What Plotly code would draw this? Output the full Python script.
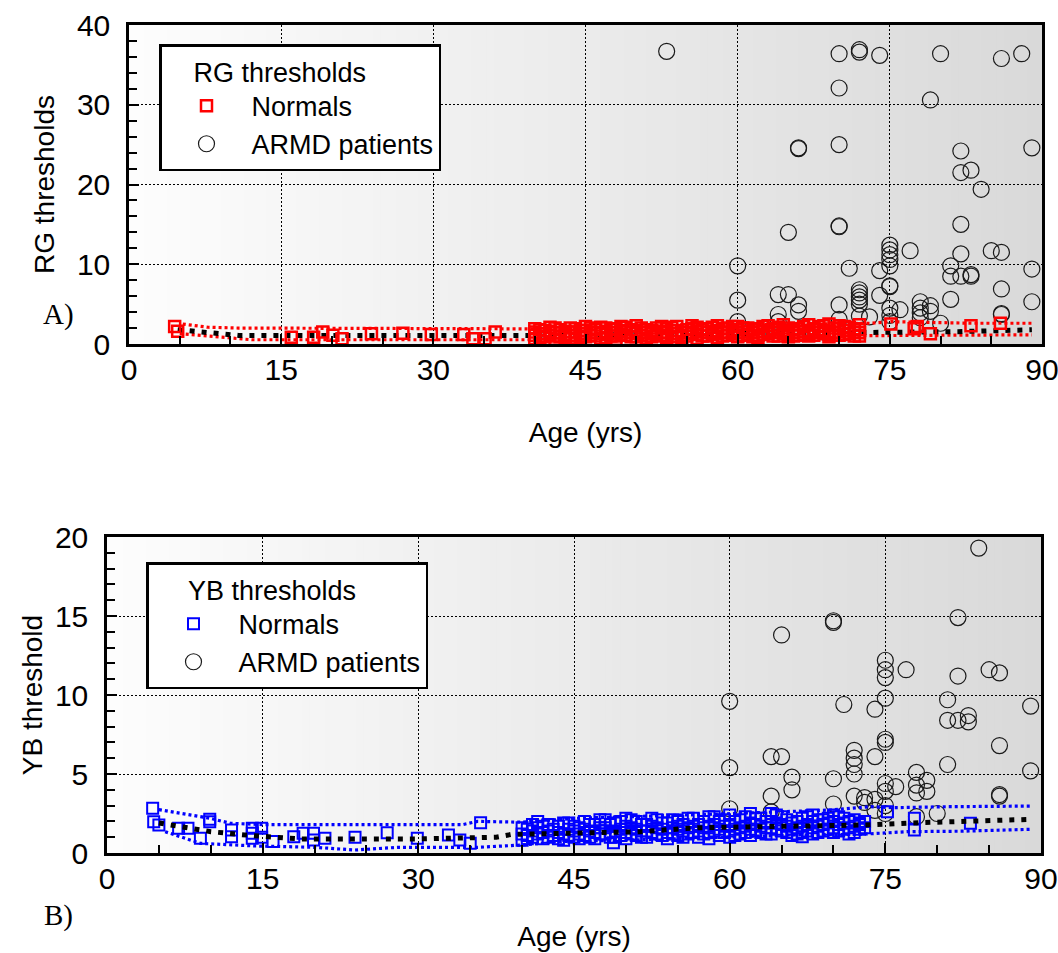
import plotly.graph_objects as go

# ---------------- RG thresholds (panel A) ----------------
rg_norm_age = [4.5, 4.8, 16, 18.2, 19.1, 20.1, 21, 23.9, 27, 29.8, 33, 33.9, 35.1, 36.1,
               40, 40, 40, 40, 41, 41, 41, 42, 42, 42, 42, 43, 43, 43, 44, 44, 44, 44,
               45, 45, 45, 45, 46, 46, 46, 47, 47, 47, 47, 48, 48, 48, 48, 49, 49, 49,
               50, 50, 50, 50, 51, 51, 51, 51, 52, 52, 52, 53, 53, 53, 53, 54, 54, 54, 54,
               55, 55, 55, 56, 56, 56, 56, 57, 57, 57, 58, 58, 58, 58, 59, 59, 59,
               60, 60, 60, 60, 60, 61, 61, 61, 62, 62, 62, 62, 63, 63, 63, 64, 64, 64, 64,
               65, 65, 65, 65, 66, 66, 66, 67, 67, 67, 67, 68, 68, 68, 69, 69, 69, 69,
               70, 70, 70, 70, 71, 71, 71, 72, 72, 72, 72,
               40.5, 40.5, 40.5, 41.5, 41.5, 41.5, 42.5, 42.5, 42.5, 43.5, 43.5, 43.5,
               44.5, 44.5, 44.5, 45.5, 45.5, 45.5, 46.5, 46.5, 46.5, 47.5, 47.5, 47.5,
               48.5, 48.5, 48.5, 49.5, 49.5, 49.5, 50.5, 50.5, 50.5, 51.5, 51.5, 51.5,
               52.5, 52.5, 52.5, 53.5, 53.5, 53.5, 54.5, 54.5, 54.5, 55.5, 55.5, 55.5,
               56.5, 56.5, 56.5, 57.5, 57.5, 57.5, 58.5, 58.5, 58.5, 59.5, 59.5, 59.5,
               60.5, 60.5, 60.5, 61.5, 61.5, 61.5, 62.5, 62.5, 62.5, 63.5, 63.5, 63.5,
               64.5, 64.5, 64.5, 65.5, 65.5, 65.5, 66.5, 66.5, 66.5, 67.5, 67.5, 67.5,
               68.5, 68.5, 68.5, 69.5, 69.5, 69.5, 70.5, 70.5, 70.5, 71.5, 71.5, 71.5,
               75.1, 77.4, 77.7, 79, 83, 85.9]
rg_norm_val = [2.2, 1.6, 0.85, 0.85, 1.5, 1.1, 0.65, 1.3, 1.35, 1.2, 1.2, 0.65, 0.65, 1.5,
               1.1, 0.7, 1.5, 1.9, 1.3, 0.9, 1.7, 1.0, 1.4, 2.0, 0.6, 1.2, 1.6, 0.8, 1.5, 1.1, 1.9, 0.7,
               1.3, 0.9, 1.7, 2.2, 1.0, 1.4, 1.8, 1.2, 0.8, 1.6, 2.0, 1.4, 1.0, 1.9, 0.6, 1.1, 1.5, 2.1,
               1.3, 0.9, 1.7, 2.3, 1.0, 1.4, 1.8, 0.7, 1.2, 1.6, 2.0, 1.5, 1.1, 0.8, 1.9, 1.3, 1.7, 2.2, 0.9,
               1.0, 1.4, 1.8, 1.2, 1.6, 2.1, 0.7, 1.4, 1.0, 1.9, 1.3, 1.7, 0.8, 2.3, 1.1, 1.5, 2.0,
               1.4, 1.0, 1.8, 2.2, 0.9, 1.2, 1.6, 2.0, 1.5, 1.1, 1.9, 0.8, 1.3, 1.7, 2.3, 1.0, 1.4, 1.8, 2.1,
               1.2, 1.6, 2.0, 0.9, 1.5, 1.1, 1.9, 1.3, 1.7, 2.4, 1.0, 1.4, 1.8, 2.2, 1.2, 1.6, 2.5, 0.9,
               1.5, 1.9, 2.3, 1.1, 1.3, 1.7, 2.1, 1.4, 1.0, 1.8, 2.4,
               1.3, 0.8, 1.8, 1.1, 1.6, 2.1, 1.4, 0.9, 1.8, 1.0, 1.5, 2.0,
               1.3, 0.8, 1.7, 1.1, 1.5, 2.0, 1.3, 0.7, 2.1, 1.0, 1.4, 1.8,
               1.2, 1.7, 2.2, 1.4, 0.9, 1.8, 1.1, 1.5, 2.0, 1.3, 1.7, 0.9,
               1.0, 1.4, 2.2, 1.3, 1.7, 2.1, 1.1, 1.5, 0.8, 1.3, 1.9, 2.3,
               1.0, 1.5, 1.8, 1.2, 1.6, 2.1, 1.4, 1.0, 1.9, 1.3, 1.7, 2.2,
               1.1, 1.5, 2.0, 1.4, 0.9, 1.8, 1.2, 1.6, 2.2, 1.0, 1.5, 1.9,
               1.3, 1.7, 2.4, 1.4, 1.0, 1.8, 1.2, 1.6, 2.2, 1.5, 1.9, 1.1,
               1.3, 1.7, 2.3, 1.4, 2.0, 1.1, 1.2, 1.7, 2.2, 1.5, 1.0, 1.9,
               2.5, 1.9, 2.2, 1.3, 2.3, 2.6]

rg_armd_age = [53, 70, 72, 72, 74, 80, 86, 88, 70, 79, 66, 66, 70, 82, 89, 82, 83, 84,
               65, 70, 70, 82, 75, 75, 75, 75, 75, 77, 82, 85, 86,
               60, 71, 74, 81, 81, 82, 83, 83, 89,
               60, 64, 65, 66, 66, 64, 64, 60, 70, 70,
               72, 72, 72, 72, 72, 72, 73, 74, 75, 75, 75, 75, 75, 76,
               78, 78, 78, 78, 79, 79, 80, 81, 86, 86, 86, 89]
rg_armd_val = [36.7, 36.4, 36.9, 36.6, 36.2, 36.4, 35.8, 36.4, 32.1, 30.6, 24.6, 24.5, 25.0, 24.2, 24.6, 21.5, 21.8, 19.4,
               14.0, 14.8, 14.7, 15.0, 12.4, 11.8, 11.2, 10.6, 9.8, 11.7, 11.3, 11.7, 11.5,
               9.8, 9.5, 9.2, 9.8, 8.5, 8.5, 8.7, 8.5, 9.4,
               5.5, 6.2, 6.2, 4.9, 4.1, 3.7, 2.8, 2.8, 4.9, 3.1,
               6.8, 6.4, 5.9, 5.5, 5.0, 3.5, 3.4, 6.1, 7.3, 7.2, 4.5, 3.6, 2.8, 4.3,
               5.3, 4.5, 3.9, 3.3, 4.8, 4.1, 2.6, 5.6, 6.9, 3.8, 3.7, 5.3]

rg_mean_age = [4.8, 6.2, 8.5, 10.8, 40, 50, 65.9, 74.1, 81.7, 89]
rg_mean_val = [1.8, 1.6, 1.28, 1.07, 1.07, 1.15, 1.28, 1.48, 1.55, 1.78]
rg_upper_age = [5.3, 7.8, 10.8, 39.5, 50, 65, 73, 75.1, 83.3, 89]
rg_upper_val = [2.5, 2.1, 2.0, 1.9, 2.2, 2.4, 2.6, 2.8, 2.6, 2.6]
rg_lower_age = [5, 8.5, 12.1, 39.5, 55, 73, 80, 89]
rg_lower_val = [1.3, 0.9, 0.53, 0.53, 0.8, 1.05, 1.1, 1.15]

# ---------------- YB thresholds (panel B) ----------------
yb_norm_age = [4.4, 4.5, 5.0, 6.9, 7.8, 9.0, 9.9, 9.9, 12, 12, 14, 14, 14, 14.9, 14.9, 16,
               18, 18.9, 19.9, 19.9, 21, 23.9, 27, 29.9, 32.9, 34, 35, 36,
               40, 40, 40, 41, 41, 41, 42, 42, 42, 43, 43, 44, 44, 44, 45, 45, 45,
               46, 46, 46, 47, 47, 47, 48, 48, 48, 48.8, 49, 49, 49, 50, 50, 50, 50,
               51, 51, 51, 52, 52, 52, 53, 53, 53, 54, 54, 54, 55, 55, 55, 55,
               56, 56, 56, 57, 57, 57, 58, 58, 58, 58, 59, 59, 59, 60, 60, 60, 60,
               61, 61, 61, 62, 62, 62, 62, 63, 63, 63, 64, 64, 64, 64, 65, 65, 65,
               66, 66, 66, 67, 67, 67, 67, 68, 68, 68, 68, 69, 69, 69, 70, 70, 70, 70,
               71, 71, 71, 72, 72, 72, 73, 73,
               40.5, 40.5, 40.5, 41.5, 41.5, 41.5, 42.5, 42.5, 42.5, 43.5, 43.5, 43.5,
               44.5, 44.5, 44.5, 45.5, 45.5, 45.5, 46.5, 46.5, 46.5, 47.5, 47.5, 47.5,
               48.5, 48.5, 48.5, 49.5, 49.5, 49.5, 50.5, 50.5, 50.5, 51.5, 51.5, 51.5,
               52.5, 52.5, 52.5, 53.5, 53.5, 53.5, 54.5, 54.5, 54.5, 55.5, 55.5, 55.5,
               56.5, 56.5, 56.5, 57.5, 57.5, 57.5, 58.5, 58.5, 58.5, 59.5, 59.5, 59.5,
               60.5, 60.5, 60.5, 61.5, 61.5, 61.5, 62.5, 62.5, 62.5, 63.5, 63.5, 63.5,
               64.5, 64.5, 64.5, 65.5, 65.5, 65.5, 66.5, 66.5, 66.5, 67.5, 67.5, 67.5,
               68.5, 68.5, 68.5, 69.5, 69.5, 69.5, 70.5, 70.5, 70.5, 71.5, 71.5, 71.5,
               72.5, 72.5, 72.5,
               75.2, 77.8, 77.8, 83.2]
yb_norm_val = [2.83, 1.98, 1.77, 1.56, 1.56, 0.93, 2.13, 1.98, 1.46, 1.03, 1.56, 1.25, 0.93, 1.56, 1.0, 0.72,
               1.03, 1.25, 1.25, 0.82, 0.93, 1.0, 1.28, 0.93, 1.14, 0.82, 0.61, 1.92,
               1.2, 0.8, 1.6, 1.0, 1.4, 1.8, 1.3, 0.9, 1.7, 1.1, 1.5, 1.2, 0.8, 1.9, 1.4, 1.0, 1.7,
               1.1, 1.5, 2.0, 1.3, 0.9, 1.8, 1.2, 1.6, 2.1, 0.65, 1.0, 1.4, 1.9, 1.3, 1.7, 0.9, 2.2,
               1.1, 1.5, 2.0, 1.4, 1.0, 1.8, 1.2, 1.6, 2.1, 1.3, 0.9, 1.9, 1.5, 1.1, 2.0, 1.7,
               1.2, 1.6, 2.2, 1.4, 1.0, 1.8, 1.3, 1.7, 2.3, 0.9, 1.5, 1.1, 2.0, 1.4, 1.8, 2.4, 1.0,
               1.6, 1.2, 2.1, 1.5, 1.9, 2.5, 1.1, 1.3, 1.7, 2.2, 1.6, 2.0, 1.2, 2.5, 1.4, 1.8, 2.3,
               1.5, 1.1, 1.9, 1.7, 2.2, 1.3, 1.03, 1.6, 2.0, 1.2, 2.4, 1.4, 1.8, 2.1, 1.6, 2.0, 1.3, 2.4,
               1.5, 1.9, 2.2, 1.7, 1.3, 2.1, 1.6, 2.0,
               1.1, 1.5, 0.9, 1.2, 1.6, 2.0, 1.0, 1.4, 1.8, 1.3, 0.9, 1.7,
               1.1, 1.5, 1.9, 1.2, 1.6, 0.9, 1.4, 1.0, 1.8, 1.2, 1.6, 2.1,
               1.3, 1.0, 1.8, 1.5, 1.1, 2.0, 1.2, 1.6, 2.1, 1.4, 1.0, 1.8,
               1.3, 1.7, 2.2, 1.5, 1.1, 1.9, 1.2, 1.6, 2.1, 1.4, 1.0, 1.8,
               1.3, 1.7, 2.2, 1.6, 1.2, 2.0, 1.4, 1.8, 2.3, 1.3, 1.7, 2.1,
               1.5, 1.1, 2.0, 1.7, 1.3, 2.3, 1.4, 1.8, 2.2, 1.6, 1.2, 2.0,
               1.5, 1.9, 2.4, 1.7, 1.3, 2.1, 1.6, 2.0, 1.2, 1.4, 1.8, 2.3,
               1.7, 1.3, 2.1, 1.5, 1.9, 2.2, 1.8, 1.4, 2.3, 1.6, 2.0, 1.2,
               1.5, 1.9, 1.8,
               2.61, 2.2, 1.46, 1.88]

yb_armd_age = [84, 70, 70, 82, 65, 75, 75, 75, 77, 82, 85, 86,
               60, 75, 71, 74, 81, 89, 81, 82, 83, 83,
               75, 75, 72, 72, 72, 72, 74, 86, 64, 65,
               60, 81, 89, 66, 66, 70, 75, 75, 76,
               78, 78, 78, 79, 79,
               64, 64, 60, 70, 72, 73, 73, 74, 74, 75, 75, 80, 78, 86, 86]
yb_armd_val = [19.3, 14.7, 14.6, 14.9, 13.8, 12.2, 11.6, 11.1, 11.6, 11.2, 11.6, 11.4,
               9.6, 9.8, 9.4, 9.1, 9.7, 9.3, 8.4, 8.4, 8.7, 8.3,
               7.2, 7.0, 6.5, 6.0, 5.6, 5.0, 6.1, 6.8, 6.1, 6.1,
               5.4, 5.6, 5.2, 4.8, 4.0, 4.7, 4.4, 3.9, 4.2,
               5.1, 4.3, 3.8, 4.6, 3.9,
               3.6, 2.6, 2.8, 3.1, 3.6, 3.5, 3.2, 3.4, 2.7, 3.0, 2.5, 2.5, 2.3, 3.7, 3.6]

yb_mean_age = [5, 10, 14, 18.6, 30, 37.5, 39, 45, 51.4, 56.9, 62.7, 67.5, 72.9, 78.4, 84.2, 89]
yb_mean_val = [1.9, 1.35, 1.1, 0.89, 0.89, 1.0, 1.18, 1.25, 1.35, 1.6, 1.66, 1.77, 1.77, 1.92, 2.05, 2.13]
yb_upper_age = [5, 9.9, 11.9, 15, 34.3, 35.7, 40, 45.3, 59.1, 69.7, 73.6, 75.9, 81, 89]
yb_upper_val = [2.75, 2.2, 1.88, 1.8, 1.8, 2.0, 1.95, 2.2, 2.47, 2.72, 2.93, 2.87, 2.93, 2.97]
yb_lower_age = [5.6, 9, 14.1, 20, 23.9, 28, 35.7, 39.8, 43.7, 53.3, 66.2, 72.6, 77.1, 82.3, 89]
yb_lower_val = [1.35, 0.61, 0.45, 0.36, 0.19, 0.36, 0.36, 0.5, 0.72, 0.87, 1.14, 1.18, 1.35, 1.38, 1.5]

age_ticks = [0, 15, 30, 45, 60, 75, 90]

FONT = "Liberation Sans, Arial, sans-serif"
SERIF = "Liberation Serif, Times New Roman, serif"
RED = "#ff0000"
BLUE = "#0000ff"
W, H = 1058, 953

fig = go.Figure()


def limit_line(x, y, color, xa, ya):
    return go.Scatter(x=x, y=y, mode="lines", xaxis=xa, yaxis=ya, showlegend=False,
                      hoverinfo="skip", line=dict(color=color, width=3.2, dash="3px,3px"))


def mean_line(x, y, xa, ya):
    return go.Scatter(x=x, y=y, mode="lines", xaxis=xa, yaxis=ya, showlegend=False,
                      hoverinfo="skip", line=dict(color="black", width=5, dash="5px,7px"))


# panel A
fig.add_trace(go.Scatter(x=rg_armd_age, y=rg_armd_val, mode="markers", name="ARMD patients",
                         xaxis="x", yaxis="y", legend="legend", legendrank=2,
                         marker=dict(symbol="circle-open", size=16, color="#1a1a1a",
                                     line=dict(width=1.2))))
fig.add_trace(limit_line(rg_upper_age, rg_upper_val, RED, "x", "y"))
fig.add_trace(limit_line(rg_lower_age, rg_lower_val, RED, "x", "y"))
fig.add_trace(mean_line(rg_mean_age, rg_mean_val, "x", "y"))
fig.add_trace(go.Scatter(x=rg_norm_age, y=rg_norm_val, mode="markers", name="Normals",
                         xaxis="x", yaxis="y", legend="legend", legendrank=1,
                         marker=dict(symbol="square-open", size=11, color=RED,
                                     line=dict(width=2.5))))

# panel B
fig.add_trace(go.Scatter(x=yb_armd_age, y=yb_armd_val, mode="markers", name="ARMD patients",
                         xaxis="x2", yaxis="y2", legend="legend2", legendrank=2,
                         marker=dict(symbol="circle-open", size=16, color="#1a1a1a",
                                     line=dict(width=1.2))))
fig.add_trace(limit_line(yb_upper_age, yb_upper_val, BLUE, "x2", "y2"))
fig.add_trace(limit_line(yb_lower_age, yb_lower_val, BLUE, "x2", "y2"))
fig.add_trace(go.Scatter(x=yb_norm_age, y=yb_norm_val, mode="markers", name="Normals",
                         xaxis="x2", yaxis="y2", legend="legend2", legendrank=1,
                         marker=dict(symbol="square-open", size=11, color=BLUE,
                                     line=dict(width=2))))
fig.add_trace(mean_line(yb_mean_age, yb_mean_val, "x2", "y2"))

# horizontal grey gradient behind each plot area
N_STRIPS = 120
for xr, yr in (("x domain", "y domain"), ("x2 domain", "y2 domain")):
    for i in range(N_STRIPS):
        t = (i + 0.5) / N_STRIPS
        g = round(253 - t * (253 - 217))
        fig.add_shape(type="rect", xref=xr, yref=yr, x0=i / N_STRIPS, x1=(i + 1) / N_STRIPS + 0.002,
                      y0=0, y1=1, layer="below", line=dict(width=0),
                      fillcolor=f"rgb({g},{g},{g})")

axis_common = dict(
    showline=True, mirror=True, linecolor="black", linewidth=2.5,
    ticks="inside", ticklen=10, tickwidth=1.5, tickcolor="black",
    showgrid=True, gridcolor="black", gridwidth=1.4, griddash="2px,2px",
    zeroline=False, tickfont=dict(size=30, color="black"), automargin=False,
    ticklabeloverflow="allow",
)
x_common = dict(axis_common, ticklabelstandoff=-3)
y_common = dict(axis_common, ticklabelstandoff=10)


def minor(step):
    return dict(dtick=step, ticks="inside", ticklen=8, tickwidth=1.5, tickcolor="black", showgrid=False)


fig.update_layout(
    width=W, height=H,
    margin=dict(l=0, r=0, t=0, b=0),
    paper_bgcolor="white", plot_bgcolor="white",
    font=dict(family=FONT, size=28, color="black"),
    xaxis=dict(x_common, domain=[129 / W, 1042 / W], anchor="y",
               range=[0, 90], tickvals=age_ticks, minor=minor(5),
               title=dict(text="Age (yrs)", standoff=38, font=dict(size=28))),
    yaxis=dict(y_common, domain=[(H - 344) / H, (H - 25) / H], anchor="x",
               range=[0, 40], dtick=10, minor=minor(2),
               title=dict(text="RG thresholds", standoff=15, font=dict(size=28))),
    xaxis2=dict(x_common, domain=[107 / W, 1041 / W], anchor="y2",
                range=[0, 90], tickvals=age_ticks, minor=minor(5),
                title=dict(text="Age (yrs)", standoff=33, font=dict(size=28))),
    yaxis2=dict(y_common, domain=[(H - 853) / H, (H - 537) / H], anchor="x2",
                range=[0, 20], dtick=5, minor=minor(1),
                title=dict(text="YB threshold", standoff=5, font=dict(size=28))),
    legend=dict(x=159 / W, y=(H - 44) / H, xanchor="left", yanchor="top",
                bgcolor="white", bordercolor="black", borderwidth=2.5,
                font=dict(size=27), itemwidth=80, traceorder="normal",
                title=dict(text="\u00a0\u00a0\u00a0\u00a0RG thresholds", side="top", font=dict(size=27))),
    legend2=dict(x=146 / W, y=(H - 562) / H, xanchor="left", yanchor="top",
                 bgcolor="white", bordercolor="black", borderwidth=2.5,
                 font=dict(size=27), itemwidth=80, traceorder="normal",
                 title=dict(text="\u00a0\u00a0\u00a0\u00a0\u00a0YB thresholds", side="top", font=dict(size=27))),
    annotations=[
        dict(text="A)", x=58 / W, y=(H - 315) / H, xref="paper", yref="paper",
             xanchor="center", yanchor="middle",
             showarrow=False, font=dict(family=SERIF, size=29)),
        dict(text="B)", x=58 / W, y=(H - 915) / H, xref="paper", yref="paper",
             xanchor="center", yanchor="middle",
             showarrow=False, font=dict(family=SERIF, size=29)),
    ],
)

fig.write_html("out.html")
